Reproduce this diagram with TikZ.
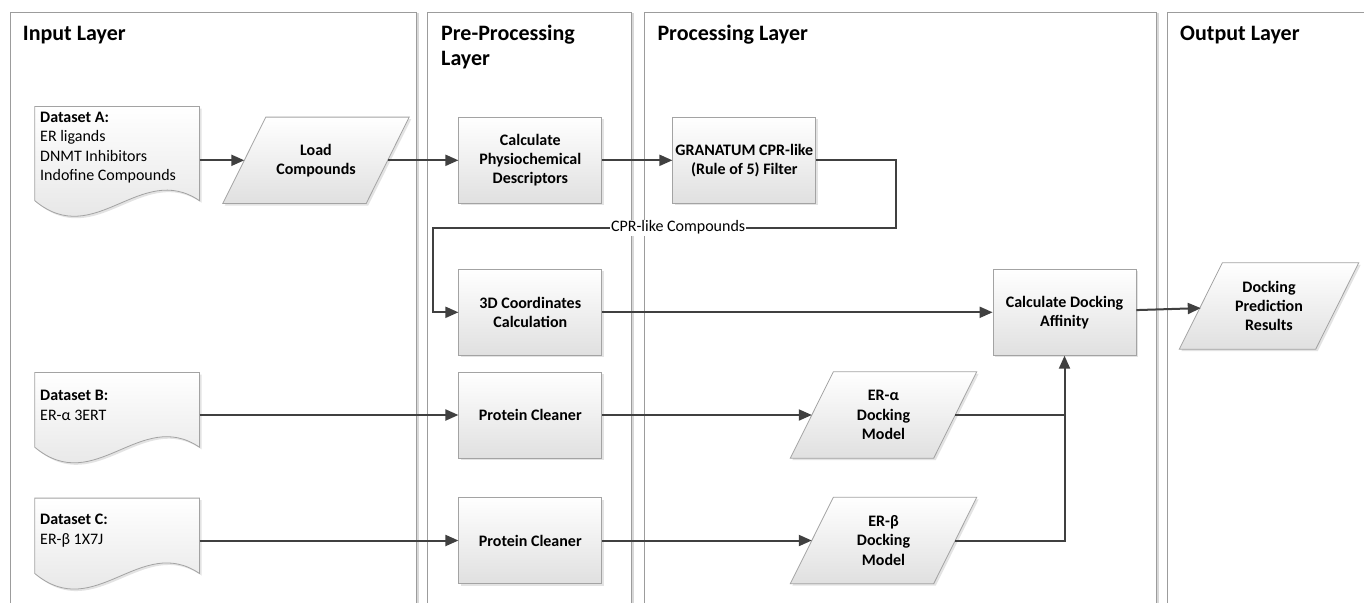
\documentclass[tikz,border=0pt]{standalone}
\usepackage{fontspec}
\setmainfont{Carlito}
\usetikzlibrary{arrows.meta,shadows,calc}
\pgfdeclarelayer{lanes}
\pgfdeclarelayer{shapes}
\pgfsetlayers{lanes,shapes,main}
\definecolor{lanegray}{HTML}{9C9C9C}
\definecolor{boxgray}{HTML}{A3A3A3}
\definecolor{arrowgray}{HTML}{404040}
\definecolor{fillbot}{HTML}{E0E0E0}
\tikzset{
  lane/.style={draw=lanegray, line width=0.9pt, fill=white,
    drop shadow={shadow xshift=2.5pt, shadow yshift=0pt, opacity=0.3}},
  lanetitle/.style={anchor=base west, inner sep=0pt, align=left,
    font=\fontsize{22}{25}\selectfont\bfseries},
  procbox/.style={draw=boxgray, line width=0.8pt, top color=white, bottom color=fillbot,
    minimum width=143pt, minimum height=86pt, inner sep=2pt, align=center,
    font=\fontsize{16}{19.3}\selectfont\bfseries,
    drop shadow={shadow xshift=2pt, shadow yshift=-2pt, opacity=0.22}},
  iotext/.style={draw=none, minimum width=143pt, minimum height=86pt, inner sep=0pt,
    align=center, font=\fontsize{16}{19.3}\selectfont\bfseries},
  docbox/.style={draw=none, minimum width=164.3pt, inner sep=0pt},
  doctext/.style={anchor=west, inner sep=0pt, align=left,
    font=\fontsize{16}{19.3}\selectfont},
  shapefill/.style={draw=boxgray, line width=0.8pt, top color=white, bottom color=fillbot,
    drop shadow={shadow xshift=2pt, shadow yshift=-2pt, opacity=0.22}},
  arr/.style={draw=arrowgray, line width=2pt, -{Triangle[length=13pt,width=11pt]}},
  plainline/.style={draw=arrowgray, line width=2pt},
  cprlabel/.style={fill=white, inner sep=1pt, font=\fontsize{16}{19.3}\selectfont},
}
\newcommand{\parashape}[1]{%
  \path[shapefill] ([xshift=21.5pt]#1.north west) -- ([xshift=21.5pt]#1.north east)
    -- ([xshift=-21.5pt]#1.south east) -- ([xshift=-21.5pt]#1.south west) -- cycle;}
\newcommand{\docshape}[1]{%
  \path[shapefill] (#1.north west) -- (#1.north east) -- (#1.south east)
    .. controls ($(#1.south east)+(-59,-40)$) and ($(#1.south west)+(60,50)$) .. (#1.south west) -- cycle;}
\begin{document}
\begin{tikzpicture}[x=1pt,y=-1pt]
\useasboundingbox (0,0) rectangle (1364,602);
\begin{pgfonlayer}{lanes}
  \clip (0,0) rectangle (1364,602);
  \fill[white] (0,0) rectangle (1364,602);
  \path[lane] (10.7,12.7) rectangle (416,640);
  \path[lane] (427,12.7) rectangle (631,640);
  \path[lane] (644,12.7) rectangle (1156.5,640);
  \path[lane] (1167.7,12.7) rectangle (1400,640);
\end{pgfonlayer}

% lane titles
\node[lanetitle] (tin) at (22.7,40.5) {Input Layer};
\node[lanetitle] (tpre) at (441,65.5) {Pre-Processing\\Layer};
\node[lanetitle] (tproc) at (657.3,40.5) {Processing Layer};
\node[lanetitle] (tout) at (1180,40.5) {Output Layer};

% documents
\node[docbox, minimum height=93.8pt] (dsA) at (117.15,153.6) {};
\node[docbox, minimum height=74.3pt] (dsB) at (117.15,409.9) {};
\node[docbox, minimum height=75pt] (dsC) at (117.15,535.8) {};
\node[doctext] (dsAt) at (40,147.6) {\textbf{Dataset A:}\\ER ligands\\DNMT Inhibitors\\Indofine Compounds};
\node[doctext] (dsBt) at (40,405.5) {\textbf{Dataset B:}\\ER-α 3ERT};
\node[doctext] (dsCt) at (40,530.5) {\textbf{Dataset C:}\\ER-β 1X7J};

% process boxes
\node[procbox] (calc) at (530.3,160.3) {Calculate\\Physiochemical\\Descriptors};
\node[procbox] (gran) at (744.3,160.3) {GRANATUM CPR-like\\(Rule of 5) Filter};
\node[procbox] (d3) at (530.3,312.3) {3D Coordinates\\Calculation};
\node[procbox] (cda) at (1064.5,312.3) {Calculate Docking\\Affinity};
\node[procbox] (pc1) at (530.3,415) {Protein Cleaner};
\node[procbox] (pc2) at (530.3,540.5) {Protein Cleaner};

% input/output shapes
\node[iotext] (load) at (316,160.3) {Load\\Compounds};
\node[iotext] (era) at (883.5,415) {ER-α\\Docking\\Model};
\node[iotext] (erb) at (883.5,540.5) {ER-β\\Docking\\Model};
\node[iotext, minimum width=136pt] (dpr) at (1269,306) {Docking\\Prediction\\Results};

\begin{pgfonlayer}{shapes}
  \docshape{dsA}
  \docshape{dsB}
  \docshape{dsC}
  \parashape{load}
  \parashape{era}
  \parashape{erb}
  \parashape{dpr}
\end{pgfonlayer}

% connectors
\coordinate (cprR) at (896,227.7);
\coordinate (cprL) at (432.5,227.7);
\draw[arr] (dsA.east |- load) -- (load);
\draw[arr] (load) -- (calc);
\draw[arr] (calc) -- (gran);
\draw[arr] (gran.east) -| (cprR) -- node[cprlabel, pos=0.47] (cprtext) {CPR-like Compounds} (cprL) |- (d3);
\draw[arr] (d3) -- (cda);
\draw[arr] (cda) -- (dpr);
\draw[arr] (dsB.east |- pc1) -- (pc1);
\draw[arr] (dsC.east |- pc2) -- (pc2);
\draw[arr] (pc1) -- (era);
\draw[arr] (pc2) -- (erb);
\draw[plainline] (era) -- (era -| cda);
\draw[arr] (erb) -| (cda);
\end{tikzpicture}
\end{document}
